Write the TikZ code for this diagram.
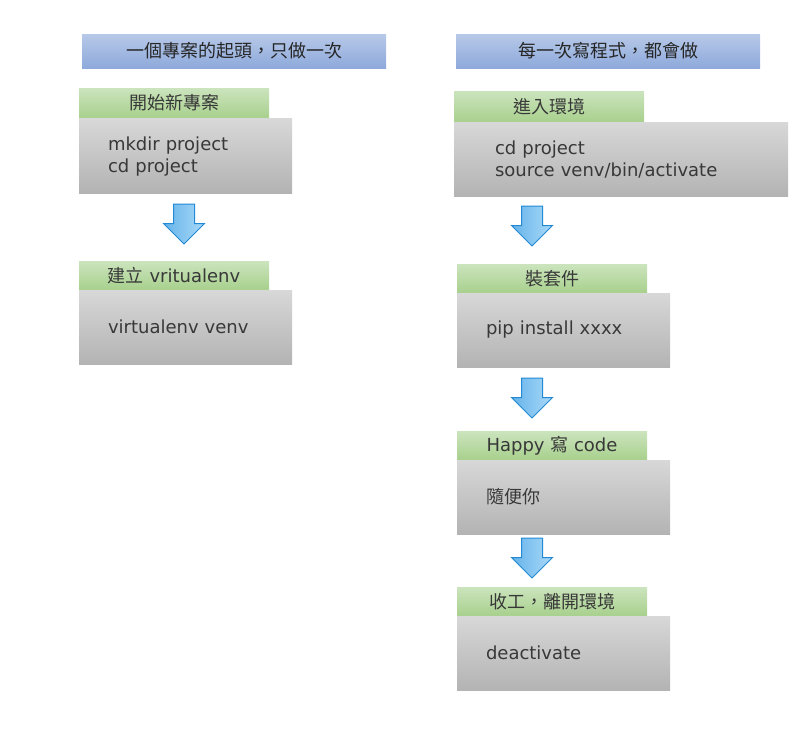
\documentclass[tikz,border=0pt]{standalone}
\usepackage{fontspec}
\setmainfont{DejaVu Sans}
\newfontfamily\cjk{Noto Sans CJK TC}
\definecolor{hdrtop}{HTML}{B7C9E8}
\definecolor{hdrbot}{HTML}{8EA9DB}
\definecolor{tabtop}{HTML}{CBE4BD}
\definecolor{tabbot}{HTML}{A8D08D}
\definecolor{boxtop}{HTML}{D8D8D8}
\definecolor{boxbot}{HTML}{B3B3B3}
\definecolor{arrowdark}{HTML}{66B3EA}
\definecolor{arrowlight}{HTML}{A9D9F8}
\definecolor{arrowline}{HTML}{2289D4}
\definecolor{inktext}{HTML}{383838}
\usetikzlibrary{positioning, shapes.arrows}

\begin{document}
\begin{tikzpicture}[
    x=1pt, y=-1pt,
    every node/.style={font=\fontsize{18}{22}\selectfont, text=inktext, outer sep=0pt},
    header/.style={
      rectangle, minimum width=304pt, minimum height=34pt, inner sep=0pt,
      top color=hdrtop, bottom color=hdrbot,
      font=\cjk\fontsize{18}{22}\selectfont, text=black!85,
    },
    tabbar/.style={
      rectangle, anchor=north west, inner sep=0pt,
      minimum width=190pt, minimum height=#1,
      top color=tabtop, bottom color=tabbot,
    },
    tabbar/.default=29pt,
    cmdbox/.style={
      rectangle, anchor=north west, align=left,
      text width=155pt, inner xsep=29pt, inner ysep=0pt,
      minimum height=74pt,
      top color=boxtop, bottom color=boxbot,
    },
    downarrow/.style={
      single arrow, shape border rotate=270, inner sep=10pt, anchor=tail,
      minimum height=40pt, minimum width=40pt, single arrow head extend=10pt,
      left color=arrowdark, right color=arrowlight,
      draw=arrowline, line width=1pt,
    },
  ]
  \useasboundingbox (0,0) rectangle (793,737);

  % left column: once per project
  \node[header] (hdr-once) at (234,51) {一個專案的起頭，只做一次};

  \node[tabbar=30pt] (tab-new) at (79,88) {\cjk 開始新專案};
  \node[cmdbox, minimum height=75pt] (box-new) at (tab-new.south west)
    {\strut mkdir project\\cd project};
  \node[downarrow] (arr-new) at (184,204) {};

  \node[tabbar] (tab-venv) at (79,261) {{\cjk 建立} vritualenv};
  \node[cmdbox] (box-venv) at (tab-venv.south west) {virtualenv venv};

  % right column: every time
  \node[header] (hdr-each) at (608,51) {每一次寫程式，都會做};

  \node[tabbar=31pt] (tab-enter) at (454,91) {\cjk 進入環境};
  \node[cmdbox, text width=252pt, inner xsep=41pt] (box-enter) at (tab-enter.south west)
    {\strut cd project\\source venv/bin/activate};
  \node[downarrow] (arr-enter) at (532,206) {};

  \node[tabbar] (tab-pkg) at (457,264) {\cjk 裝套件};
  \node[cmdbox] (box-pkg) at (tab-pkg.south west) {pip install xxxx};
  \node[downarrow] (arr-pkg) at (532,378) {};

  \node[tabbar] (tab-code) at (457,431) {Happy {\cjk 寫} code};
  \node[cmdbox] (box-code) at (tab-code.south west) {\cjk 隨便你};
  \node[downarrow] (arr-code) at (532,538) {};

  \node[tabbar] (tab-exit) at (457,587) {\cjk 收工，離開環境};
  \node[cmdbox] (box-exit) at (tab-exit.south west) {deactivate};
\end{tikzpicture}
\end{document}
